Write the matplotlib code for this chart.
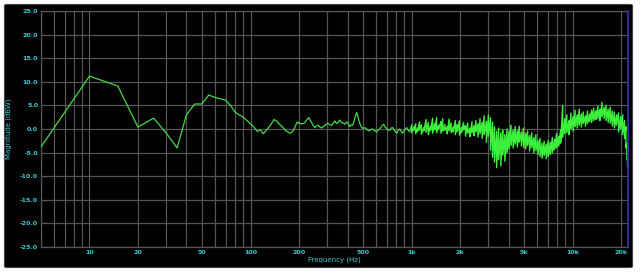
import numpy as np
import matplotlib
matplotlib.use("Agg")
import matplotlib.pyplot as plt
from matplotlib.patches import FancyBboxPatch

# low end: 5 Hz FFT bins, drawn as a plain line
freq_low = [5, 10, 15, 20, 25, 30, 35, 40, 45, 50,
            55, 60, 65, 70, 75, 80, 85, 90, 95, 100,
            105, 110, 115, 120, 125, 130, 135, 140, 145, 150,
            155, 160, 165, 170, 175, 180, 185, 190, 195, 200]
mag_low = [-3.8, 11.2, 9.1, 0.4, 2.3, -0.9, -4.0, 3.0, 5.3, 5.3,
           7.2, 6.7, 6.4, 6.1, 5.0, 3.6, 3.0, 2.5, 1.8, 1.1,
           0.4, -0.5, -0.2, -1.0, -0.3, 0.4, 1.2, 2.0, 1.7, 1.1,
           0.7, 0.2, -0.3, -0.6, -0.9, -0.7, -0.2, 0.6, 1.5, 1.2]

# mid band 200 Hz - 1 kHz
freq_mid = [210, 217, 223, 230, 235, 240, 245, 251, 256, 262,
            270, 277, 283, 289, 295, 302, 310, 320, 327, 334,
            341, 348, 353, 358, 366, 374, 385, 396, 404, 413,
            422, 431, 440, 448, 456, 466, 476, 486, 497, 511,
            526, 537, 549, 561, 574, 590, 607, 620, 634, 652,
            671, 685, 700, 715, 731, 747, 763, 785, 807, 825,
            843, 861, 880, 905, 931, 950, 972]
mag_mid = [1.1, 1.3, 1.9, 2.4, 1.8, 1.3, 0.7, 0.3, 0.6, 0.8,
           0.4, 0.2, 0.5, 0.7, 1.0, 1.2, 0.9, 0.8, 1.3, 1.7,
           1.2, 1.3, 1.6, 1.9, 1.4, 1.3, 1.0, 1.5, 1.1, 0.5,
           0.9, 0.8, 1.8, 2.8, 3.5, 2.4, 1.2, 0.5, 0.1, 0.3,
           0.0, -0.3, -0.4, -0.1, 0.0, -0.4, -0.6, -0.2, 0.0, 0.6,
           1.0, 0.4, 0.1, -0.3, -0.2, 0.2, 0.3, -0.4, -0.9, -0.3,
           0.0, -0.5, -0.9, -0.2, 0.3, -0.2, -0.6]

# high band 1k - 22k: dense noisy trace, min/max per column
freq_hf = [1000, 1030, 1060, 1090, 1120, 1150, 1190, 1230, 1270, 1310,
           1350, 1390, 1430, 1470, 1520, 1560, 1610, 1660, 1710, 1760,
           1810, 1870, 1920, 1980, 2040, 2100, 2160, 2230, 2300, 2370,
           2440, 2510, 2580, 2660, 2740, 2820, 2910, 3000, 3090, 3180,
           3270, 3370, 3470, 3580, 3680, 3790, 3910, 4020, 4140, 4270,
           4400, 4530, 4660, 4800, 4950, 5100, 5250, 5400, 5570, 5730,
           5910, 6080, 6270, 6450, 6650, 6850, 7050, 7260, 7480, 7710,
           7940, 8170, 8420, 8670, 8930, 9200, 9480, 9760, 10050, 10350,
           10660, 10980, 11310, 11650, 12000, 12360, 12730, 13110, 13510, 13910,
           14330, 14760, 15200, 15660, 16130, 16610, 17110, 17620, 18150, 18700,
           19260, 19840, 20430, 21000, 21400, 21700, 21900]
hi_hf = [0.8, 0.4, 1.1, 0.2, 1.5, 0.9, 0.3, 2.0, 1.4, 0.6,
         2.3, 1.2, 2.4, 0.8, 1.6, 2.2, 1.0, 0.5, 2.1, 1.3,
         0.4, 1.8, 0.9, 1.7, 0.3, 1.4, 0.8, 1.3, 0.2, 1.5,
         0.7, 1.8, 1.1, 2.2, 1.4, 2.8, 1.6, 3.0, 2.4, 1.5,
         0.5, -0.5, 0.2, -0.8, -0.3, -1.2, 0.0, -0.5, 0.8, -0.2,
         0.5, -0.4, 0.6, -0.6, 0.2, -0.9, -0.4, -1.4, -0.8, -1.8,
         -1.2, -2.4, -2.0, -3.0, -2.6, -3.2, -2.4, -2.8, -1.8, -2.2,
         -1.0, -1.6, -0.2, 5.0, 2.2, 3.0, 1.8, 3.4, 2.6, 4.0,
         3.0, 4.2, 3.2, 3.6, 2.8, 3.8, 3.2, 4.0, 4.4, 3.8,
         4.8, 4.2, 5.6, 4.6, 5.0, 4.2, 4.6, 3.8, 3.6, 3.0,
         3.4, 2.6, 3.0, 1.8, 0.5, -3.0, -6.5]
lo_hf = [-0.8, -0.3, -1.0, -0.5, -0.2, -1.1, -0.4, -0.7, -1.2, -0.3,
         -0.9, -0.2, -0.8, 0.0, -0.9, -0.5, -0.3, -1.0, -0.4, -0.8,
         -0.6, -1.2, -0.5, -1.3, -0.7, -0.2, -1.5, -0.9, -1.6, -0.8,
         -1.4, -0.6, -1.7, -1.0, -2.0, -1.2, -2.8, -1.5, -4.5, -6.0,
         -7.0, -8.2, -6.5, -7.8, -5.5, -6.8, -5.0, -4.2, -3.5, -4.0,
         -3.2, -3.8, -2.8, -3.6, -3.9, -4.2, -3.5, -4.6, -4.0, -5.0,
         -4.6, -5.4, -5.8, -6.2, -5.6, -6.3, -5.8, -5.4, -5.0, -4.4,
         -4.0, -3.6, -3.0, -1.8, -1.0, -0.8, -1.2, 0.0, -0.4, 0.5,
         0.2, 0.8, 0.4, 1.2, 0.6, 1.2, 1.6, 1.4, 1.8, 2.0,
         2.2, 1.8, 2.6, 2.2, 1.8, 1.4, 1.2, 0.6, 0.2, 0.8,
         -0.6, 0.0, -1.2, -2.0, -4.0, -6.5, -8.0]
assert len(freq_low) == len(mag_low)
assert len(freq_mid) == len(mag_mid)
assert len(freq_hf) == len(hi_hf) == len(lo_hf)

y_ticks = [25, 20, 15, 10, 5, 0, -5, -10, -15, -20, -25]
x_ticks = [10, 20, 50, 100, 200, 500, 1000, 2000, 5000, 10000, 20000]
x_labels = ["10", "20", "50", "100", "200", "500", "1k", "2k", "5k", "10k", "20k"]

cyan = "#3cc8d2"
green = "#3ae63a"
grid_col = "#555555"

fig = plt.figure(figsize=(6.4, 2.72), dpi=100)
fig.patch.set_facecolor("white")
bg = FancyBboxPatch((4 / 640, 4 / 272), 629 / 640, 264 / 272,
                    boxstyle="round,pad=0,rounding_size=0.004",
                    transform=fig.transFigure, facecolor="black",
                    edgecolor="#cccccc", linewidth=0.5, zorder=-5)
fig.patches.append(bg)

ax = fig.add_axes([41 / 640, 25 / 272, 587 / 640, 236 / 272])
ax.set_facecolor("black")

# low + mid part as a plain line
freq = np.concatenate([freq_low, freq_mid, freq_hf[:1]])
mag = np.concatenate([mag_low, mag_mid, hi_hf[:1]])
ax.plot(freq, mag, color="#44d844", lw=0.9, zorder=3)

# high band as zigzag between the max and min of each column
f_hf = np.repeat(freq_hf, 2)
m_hf = np.column_stack([hi_hf, lo_hf]).ravel()
ax.plot(f_hf, m_hf, color="#3cf03c", lw=1.0, zorder=3)

ax.set_xscale("log")
ax.set_xlim(5, 22050)
ax.set_ylim(-25, 25)
ax.axvline(22050, color="#2c2ca8", lw=1.2, zorder=4, clip_on=False)

ax.set_yticks(y_ticks)
ax.set_yticklabels([f"{v:.1f}" for v in y_ticks])
ax.set_xticks(x_ticks)
ax.set_xticklabels(x_labels)
ax.grid(True, which="major", color=grid_col, lw=0.9)
ax.grid(True, which="minor", axis="x", color=grid_col, lw=0.9)
ax.tick_params(which="both", length=0, colors=cyan, labelsize=4.6, pad=2)
ax.xaxis.set_minor_formatter(plt.NullFormatter())
for lab in ax.get_xticklabels() + ax.get_yticklabels():
    lab.set_fontweight("bold")
for s in ax.spines.values():
    s.set_color(grid_col)
    s.set_linewidth(0.9)

ax.set_xlabel("Frequency (Hz)", color=cyan, fontsize=5, labelpad=1)
ax.set_ylabel("Magnitude (dBW)", color=cyan, fontsize=5, labelpad=6)

fig.savefig("out.png", dpi=100, facecolor="white")
